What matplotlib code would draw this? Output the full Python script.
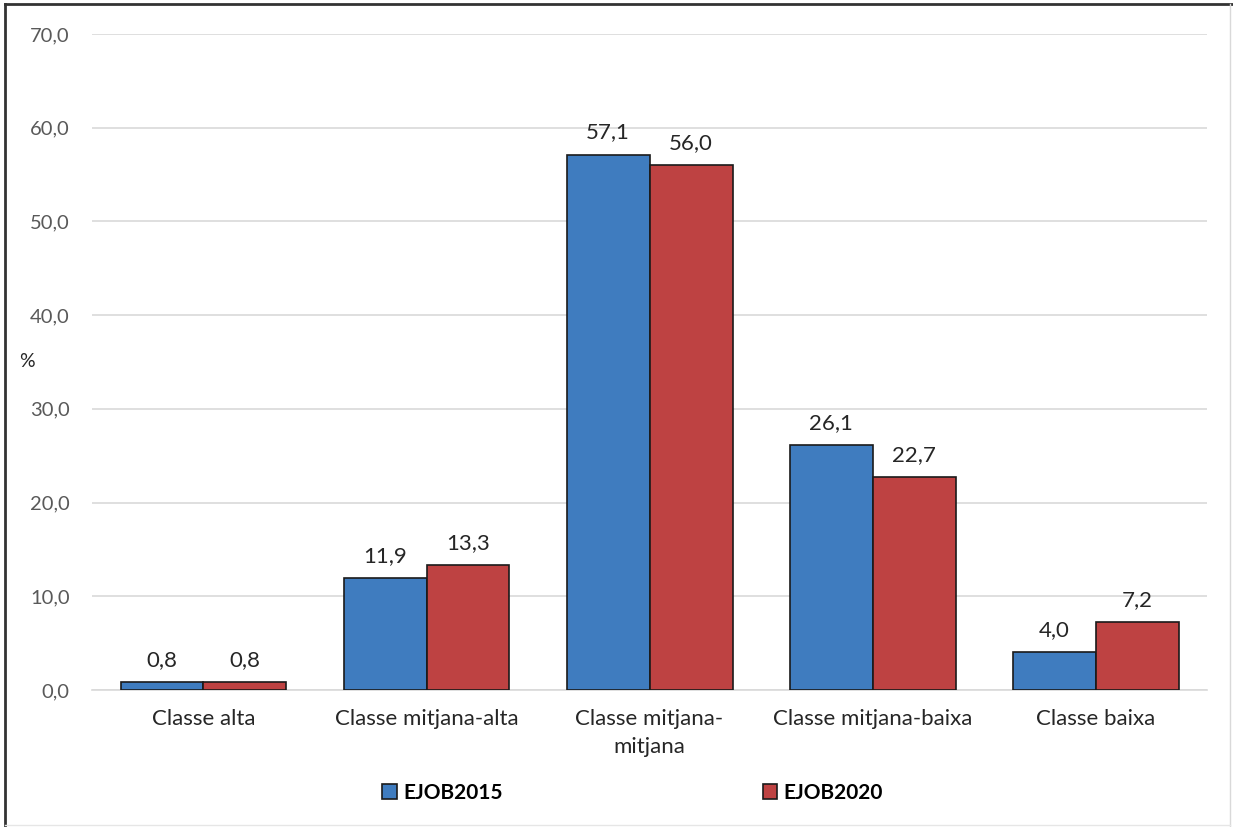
import numpy as np
import matplotlib.pyplot as plt
from matplotlib.lines import Line2D

plt.rcParams['font.family'] = ['Lato', 'DejaVu Sans']

categories = ['Classe alta', 'Classe mitjana-alta', 'Classe mitjana-\nmitjana',
              'Classe mitjana-baixa', 'Classe baixa']
ejob2015 = [0.8, 11.9, 57.1, 26.1, 4.0]
ejob2020 = [0.8, 13.3, 56.0, 22.7, 7.2]
yticks = [0, 10, 20, 30, 40, 50, 60, 70]

fig = plt.figure(figsize=(12.33, 8.27), dpi=100)
ax = fig.add_axes([0.0746, 0.1657, 0.9044, 0.7932])

x = np.arange(len(categories))
w = 0.372
b1 = ax.bar(x - w / 2, ejob2015, w, color='#3F7CBF', edgecolor='#1a1a1a', linewidth=1.2,
            label='EJOB2015', zorder=3)
b2 = ax.bar(x + w / 2, ejob2020, w, color='#BE4242', edgecolor='#1a1a1a', linewidth=1.2,
            label='EJOB2020', zorder=3)

for bars in (b1, b2):
    for r in bars:
        h = r.get_height()
        ax.annotate(f'{h:.1f}'.replace('.', ','), (r.get_x() + r.get_width() / 2, h),
                    xytext=(0, 9), textcoords='offset points', ha='center', va='bottom',
                    fontsize=16, color='#262626')

ax.set_xlim(-0.5, len(categories) - 0.5)
ax.set_ylim(0, 70)
ax.set_yticks(yticks)
ax.set_yticklabels([f'{v:.1f}'.replace('.', ',') for v in yticks], fontsize=14.5, color='#595959')
ax.set_xticks(x)
ax.set_xticklabels(categories, fontsize=16, color='#262626', linespacing=1.45)
ax.tick_params(axis='y', length=0, pad=16)
ax.tick_params(axis='x', length=0, pad=14)
ax.grid(axis='y', color='#D9D9D9', linewidth=1.2, zorder=0)
for s in ['top', 'right', 'left']:
    ax.spines[s].set_visible(False)
ax.spines['bottom'].set_color('#D9D9D9')
ax.spines['bottom'].set_linewidth(1.2)

fig.text(27 / 1233, 1 - 362 / 827, '%', fontsize=14, color='#262626', ha='center', va='center')

leg = fig.legend(handles=[b1, b2], loc='center', bbox_to_anchor=(0.513, 1 - 793 / 827), ncol=2,
                 frameon=False, columnspacing=12.5, handlelength=0.7, handleheight=0.7,
                 handletextpad=0.3, prop={'weight': 'bold', 'size': 15})

# figure border
fig.add_artist(Line2D([5 / 1233, 5 / 1233], [0, 1 - 4 / 827], color='#333333', lw=2))
fig.add_artist(Line2D([5 / 1233, 1], [1 - 4 / 827, 1 - 4 / 827], color='#333333', lw=2))
fig.add_artist(Line2D([1230 / 1233, 1230 / 1233], [0, 1 - 4 / 827], color='#D9D9D9', lw=1))
fig.add_artist(Line2D([5 / 1233, 1230 / 1233], [2 / 827, 2 / 827], color='#E6E6E6', lw=1))

fig.savefig('out.png', dpi=100)
